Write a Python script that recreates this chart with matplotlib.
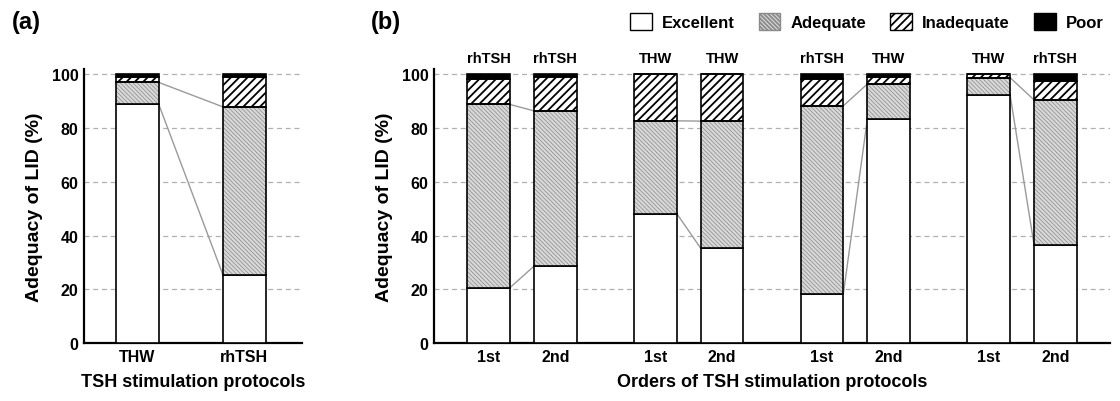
import matplotlib
matplotlib.use("Agg")
import matplotlib.pyplot as plt
from matplotlib.patches import Patch
import numpy as np

plt.rcParams['font.family'] = ['Liberation Sans', 'DejaVu Sans']
plt.rcParams['font.weight'] = 'bold'
plt.rcParams['hatch.linewidth'] = 1.3

# panel (a) data
a_labels = ['THW', 'rhTSH']
a_excellent = [88.8, 25.4]
a_adequate = [8.2, 62.5]
a_inadequate = [2.1, 11.2]
a_poor = [0.9, 0.9]

# panel (b) data
b_ticks = ['1st', '2nd', '1st', '2nd', '1st', '2nd', '1st', '2nd']
b_protocol = ['rhTSH', 'rhTSH', 'THW', 'THW', 'rhTSH', 'THW', 'THW', 'rhTSH']
b_excellent = [20.6, 28.6, 48.2, 35.3, 18.3, 83.3, 92.5, 36.6]
b_adequate = [68.2, 57.8, 34.5, 47.3, 70.0, 13.1, 6.3, 53.9]
b_inadequate = [9.5, 12.6, 17.3, 17.4, 10.0, 2.6, 1.2, 7.0]
b_poor = [1.7, 1.0, 0.0, 0.0, 1.7, 1.0, 0.0, 2.5]

categories = ['Excellent', 'Adequate', 'Inadequate', 'Poor']
ADQ_FACE = '#d8d8d8'
ADQ_HATCH = '#8a8a8a'
ADQ_PAT = '\\' * 8


def set_hlw(p, lw):
  if hasattr(p, 'set_hatch_linewidth'):
    p.set_hatch_linewidth(lw)


def stacked(ax, x, width, exc, adq, inad, poor):
  x = np.asarray(x, dtype=float)
  exc = np.asarray(exc)
  adq = np.asarray(adq)
  inad = np.asarray(inad)
  poor = np.asarray(poor)
  ax.bar(x, exc, width, color='white', edgecolor='black', lw=1.2, zorder=3)
  bars = ax.bar(x, adq, width, bottom=exc, color=ADQ_FACE, edgecolor=ADQ_HATCH,
                hatch=ADQ_PAT, lw=0, zorder=3)
  for b in bars:
    set_hlw(b, 0.5)
  ax.bar(x, adq, width, bottom=exc, color='none', edgecolor='black', lw=1.2, zorder=4)
  bars = ax.bar(x, inad, width, bottom=exc + adq, color='white', edgecolor='black',
                hatch='////', lw=1.2, zorder=3)
  for b in bars:
    set_hlw(b, 1.3)
  ax.bar(x, poor, width, bottom=exc + adq + inad, color='black', edgecolor='black',
         lw=1.2, zorder=3)
  return exc, exc + adq


def connect(ax, x1, x2, width, y1, y2):
  ax.plot([x1 + width / 2, x2 - width / 2], [y1, y2], color='#9a9a9a', lw=1.0, zorder=2)


def style(ax):
  ax.set_ylim(0, 102)
  ax.set_yticks([0, 20, 40, 60, 80, 100])
  for v in [20, 40, 60, 80, 100]:
    ax.axhline(v, color='#b0b0b0', lw=0.9, ls=(0, (4, 3)), zorder=1)
  for s in ['top', 'right']:
    ax.spines[s].set_visible(False)
  for s in ['left', 'bottom']:
    ax.spines[s].set_linewidth(1.6)
  ax.tick_params(length=0, labelsize=11.5, pad=4)
  ax.set_ylabel('Adequacy of LID (%)', fontsize=14, fontweight='bold', labelpad=6)


fig = plt.figure(figsize=(11.2, 4.02), dpi=100)

# (a)
ax1 = fig.add_axes([0.075, 0.1443, 0.1946, 0.6816])
wa = 0.4
xa = np.arange(len(a_labels))
ta, tb = stacked(ax1, xa, wa, a_excellent, a_adequate, a_inadequate, a_poor)
connect(ax1, xa[0], xa[1], wa, ta[0], ta[1])
connect(ax1, xa[0], xa[1], wa, tb[0], tb[1])
ax1.set_xlim(-0.5, 1.54)
ax1.set_xticks(xa)
ax1.set_xticklabels(a_labels)
style(ax1)
ax1.set_xlabel('TSH stimulation protocols', fontsize=13, fontweight='bold', labelpad=7)

# (b)
ax2 = fig.add_axes([0.3875, 0.1443, 0.6036, 0.6816])
wb = 0.64
xb = np.array([p * 2.5 + o for p in range(4) for o in range(2)])
ta, tb = stacked(ax2, xb, wb, b_excellent, b_adequate, b_inadequate, b_poor)
for i in range(0, len(xb), 2):
  connect(ax2, xb[i], xb[i + 1], wb, ta[i], ta[i + 1])
  connect(ax2, xb[i], xb[i + 1], wb, tb[i], tb[i + 1])
for xi, lab in zip(xb, b_protocol):
  ax2.text(xi, 103.3, lab, ha='center', va='bottom', fontsize=10.5, fontweight='bold')
ax2.set_xlim(-0.82, 9.32)
ax2.set_xticks(xb)
ax2.set_xticklabels(b_ticks)
style(ax2)
ax2.set_xlabel('Orders of TSH stimulation protocols', fontsize=13, fontweight='bold', labelpad=7)

fig.text(0.011, 0.943, '(a)', fontsize=17, fontweight='bold', va='center')
fig.text(0.331, 0.943, '(b)', fontsize=17, fontweight='bold', va='center')

handles = [
  Patch(facecolor='white', edgecolor='black', lw=1.0),
  Patch(facecolor=ADQ_FACE, edgecolor=ADQ_HATCH, hatch=ADQ_PAT, lw=1.0),
  Patch(facecolor='white', edgecolor='black', hatch='////', lw=1.0),
  Patch(facecolor='black', edgecolor='black', lw=1.0),
]
set_hlw(handles[1], 0.5)
fig.legend(handles, categories, loc='center left', bbox_to_anchor=(0.5625, 0.945),
           ncol=4, frameon=False, fontsize=12, handlelength=1.3, handleheight=1.2,
           handletextpad=0.6, columnspacing=1.45, borderaxespad=0, borderpad=0)

fig.savefig('out.png', dpi=100)
